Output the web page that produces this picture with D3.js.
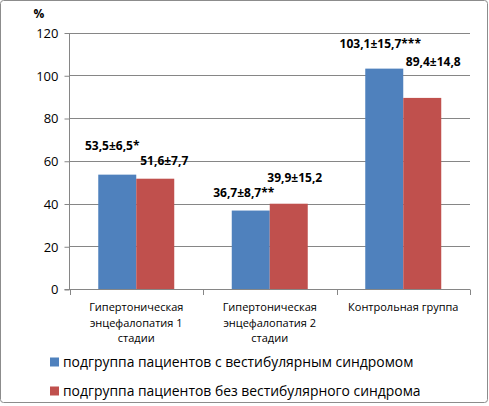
<!DOCTYPE html>
<html>
<head>
<meta charset="utf-8">
<script src="https://cdn.jsdelivr.net/npm/d3@7"></script>
<style>
  body { margin: 0; background: #fff; }
  svg text { font-family: "Open Sans", "Liberation Sans", sans-serif; fill: #000; }
</style>
</head>
<body>
<div id="chart"></div>
<script>
// categories (x axis), each split into lines
const categories = ["ГЭ1", "ГЭ2", "Контроль"];
const categoryLines = [
    ["Гипертоническая", "энцефалопатия 1", "стадии"],
    ["Гипертоническая", "энцефалопатия 2", "стадии"],
    ["Контрольная группа"]
];

// series
const seriesNames = [
    "подгруппа пациентов с вестибулярным синдромом",
    "подгруппа пациентов без вестибулярного синдрома"
];
const withSyndrome = [53.5, 36.7, 103.1];
const withoutSyndrome = [51.6, 39.9, 89.4];
const withSyndromeLabels = ["53,5±6,5*", "36,7±8,7**", "103,1±15,7***"];
const withoutSyndromeLabels = ["51,6±7,7", "39,9±15,2", "89,4±14,8"];

const yTicks = [0, 20, 40, 60, 80, 100, 120];

// manual label shifts (the labels were dragged in the original)
const labelShift = [
    [[-5, -29], [9, -18]],
    [[-7, -18], [6, -26]],
    [[-4, -25], [11, -36]]
];

const colors = ["#4F81BD", "#C0504D"];
const W = 489, H = 406;

const svg = d3.select("#chart").append("svg")
    .attr("width", W)
    .attr("height", H);

// outer frame
svg.append("rect")
    .attr("x", 0.5).attr("y", 0.5)
    .attr("width", 487).attr("height", 402)
    .attr("rx", 3)
    .attr("fill", "#fff")
    .attr("stroke", "#8c8c8c");

const x = d3.scaleBand()
    .domain(categories)
    .range([69.5, 470]);

const xSub = d3.scaleBand()
    .domain([0, 1])
    .range([0, x.bandwidth()])
    .paddingOuter(0.757);

const y = d3.scaleLinear()
    .domain([0, 120])
    .range([289, 32.5]);

// gridlines
svg.append("g")
    .selectAll("line")
    .data(yTicks.slice(1))
    .enter().append("line")
    .attr("x1", 69.5).attr("x2", 470)
    .attr("y1", d => Math.round(y(d)) + 0.5)
    .attr("y2", d => Math.round(y(d)) + 0.5)
    .attr("stroke", "#868686");

// y axis
const yAxis = d3.axisLeft(y)
    .tickValues(yTicks)
    .tickSize(5)
    .tickPadding(6)
    .tickFormat(d => d);

const gy = svg.append("g")
    .attr("transform", "translate(69.5,0.5)")
    .call(yAxis);
gy.select(".domain").attr("stroke", "#868686").attr("d", `M0,${y(120)}V${y(0)}`);
gy.selectAll(".tick line").attr("stroke", "#868686");
gy.selectAll(".tick text").style("font-size", "13px").attr("dy", "0.34em");

svg.append("text")
    .attr("x", 39).attr("y", 18)
    .attr("text-anchor", "middle")
    .style("font-size", "12px")
    .style("font-weight", "bold")
    .text("%");

// bars
const values = [withSyndrome, withoutSyndrome];
const labels = [withSyndromeLabels, withoutSyndromeLabels];

values.forEach((vals, s) => {
    svg.append("g")
        .selectAll("rect")
        .data(vals)
        .enter().append("rect")
        .attr("x", (d, i) => x(categories[i]) + xSub(s))
        .attr("y", d => y(d))
        .attr("width", xSub.bandwidth())
        .attr("height", d => y(0) - y(d))
        .attr("fill", colors[s]);

    svg.append("g")
        .selectAll("text")
        .data(vals)
        .enter().append("text")
        .attr("x", (d, i) => x(categories[i]) + xSub(s) + xSub.bandwidth() / 2 + labelShift[i][s][0])
        .attr("y", (d, i) => y(d) + labelShift[i][s][1])
        .attr("dy", "0.35em")
        .attr("text-anchor", "middle")
        .style("font-size", "12px")
        .style("font-weight", "bold")
        .text((d, i) => labels[s][i]);
});

// x axis
const xAxisLine = svg.append("g");
xAxisLine.append("line")
    .attr("x1", 64.5).attr("x2", 470)
    .attr("y1", 289.5).attr("y2", 289.5)
    .attr("stroke", "#868686");
xAxisLine.selectAll(".xtick")
    .data(categories.concat(["end"]))
    .enter().append("line")
    .attr("x1", (d, i) => Math.round(i < categories.length ? x(d) : x.range()[1]) + 0.5)
    .attr("x2", (d, i) => Math.round(i < categories.length ? x(d) : x.range()[1]) + 0.5)
    .attr("y1", 289.5).attr("y2", 295)
    .attr("stroke", "#868686");

categories.forEach((c, i) => {
    const t = svg.append("text")
        .attr("x", x(c) + x.bandwidth() / 2)
        .attr("y", 311)
        .attr("text-anchor", "middle")
        .style("font-size", "11px");
    categoryLines[i].forEach((line, k) => {
        t.append("tspan")
            .attr("x", x(c) + x.bandwidth() / 2)
            .attr("dy", k === 0 ? 0 : 15.5)
            .text(line);
    });
});

// legend
const legend = svg.append("g");
seriesNames.forEach((name, s) => {
    const ly = 362 + s * 29;
    legend.append("rect")
        .attr("x", 50).attr("y", ly - 4.5)
        .attr("width", 9).attr("height", 9)
        .attr("fill", colors[s]);
    legend.append("text")
        .attr("x", 63).attr("y", ly)
        .attr("dy", "0.35em")
        .style("font-size", "13.9px")
        .text(name);
});
</script>
</body>
</html>
